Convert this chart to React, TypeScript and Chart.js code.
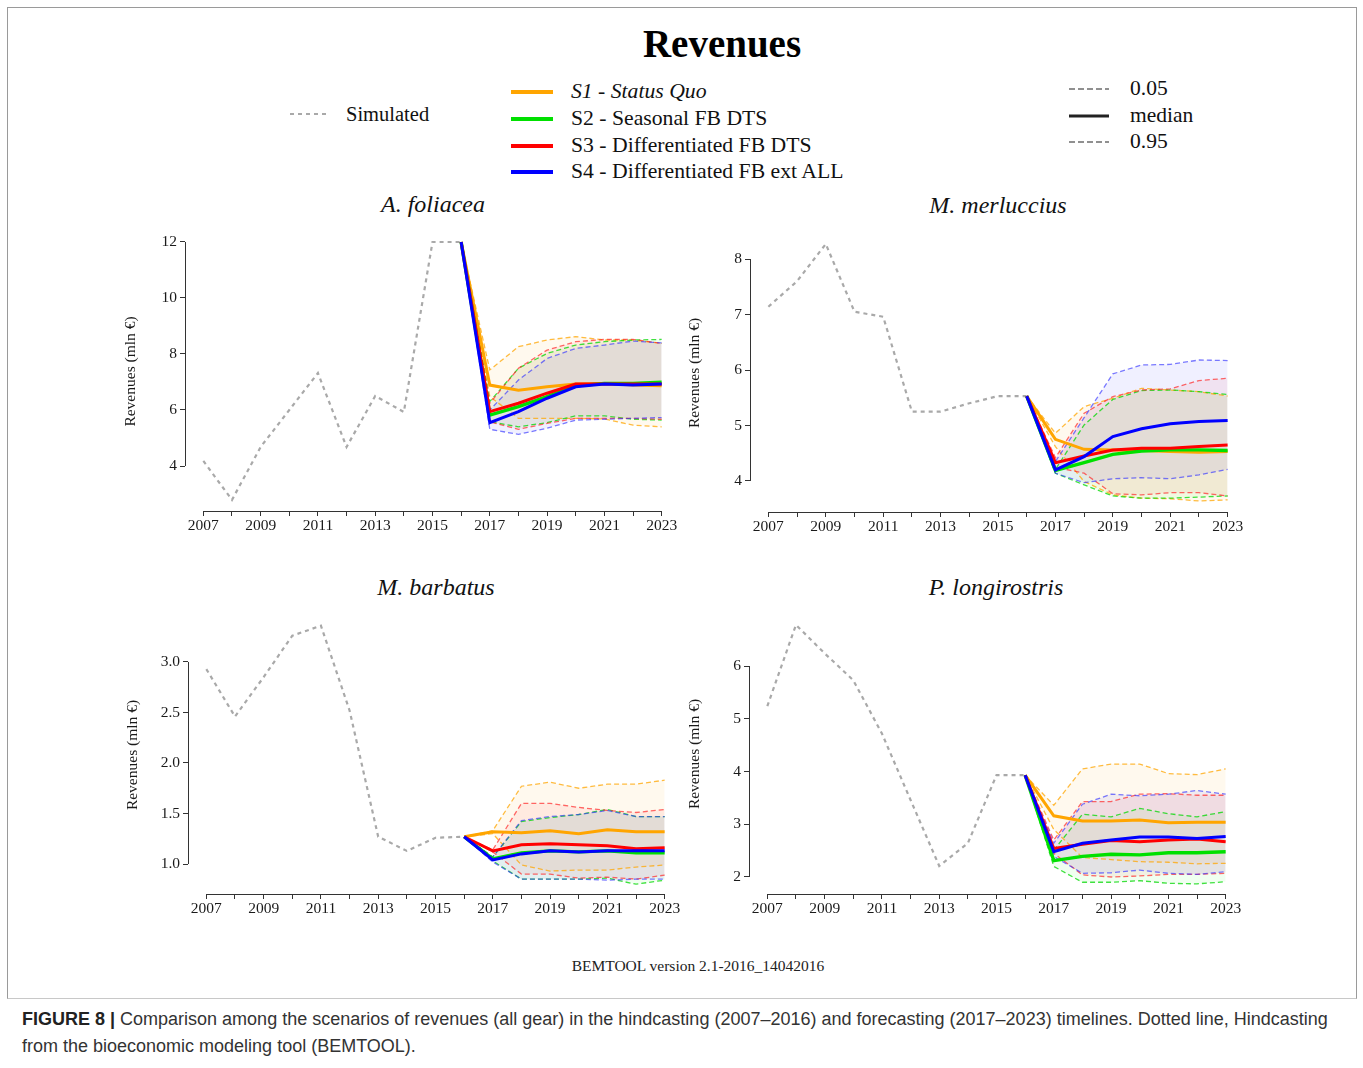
import React, { useEffect, useRef } from "react";
import { Chart, registerables } from "chart.js";

Chart.register(...registerables);

// ---------- DATA ----------
const simYears = [2007, 2008, 2009, 2010, 2011, 2012, 2013, 2014, 2015, 2016];
const fcYears = [2016, 2017, 2018, 2019, 2020, 2021, 2022, 2023];
const xTickYears = [2007, 2008, 2009, 2010, 2011, 2012, 2013, 2014, 2015, 2016, 2017, 2018, 2019, 2020, 2021, 2022, 2023];
const xTickLabels = ["2007", "2009", "2011", "2013", "2015", "2017", "2019", "2021", "2023"];

const scenarioNames = ["S1 - Status Quo", "S2 - Seasonal FB DTS", "S3 - Differentiated FB DTS", "S4 - Differentiated FB ext ALL"];
const quantileNames = ["0.05", "median", "0.95"];

// A. foliacea
const foliaceaSim = [4.18, 2.79, 4.68, 6.0, 7.32, 4.68, 6.5, 5.93, 12, 12];
const foliaceaS1Med = [12, 6.89, 6.71, 6.83, 6.93, 6.95, 6.89, 6.87];
const foliaceaS1Q05 = [12, 6.48, 5.7, 5.7, 5.7, 5.68, 5.46, 5.4];
const foliaceaS1Q95 = [12, 7.43, 8.26, 8.5, 8.62, 8.5, 8.5, 8.38];
const foliaceaS2Med = [12, 5.82, 6.12, 6.48, 6.86, 6.95, 6.95, 6.99];
const foliaceaS2Q05 = [12, 5.58, 5.4, 5.55, 5.79, 5.79, 5.67, 5.64];
const foliaceaS2Q95 = [12, 6.3, 7.49, 8.02, 8.32, 8.44, 8.5, 8.52];
const foliaceaS3Med = [12, 5.94, 6.24, 6.6, 6.93, 6.93, 6.93, 6.93];
const foliaceaS3Q05 = [12, 5.58, 5.31, 5.52, 5.7, 5.7, 5.7, 5.67];
const foliaceaS3Q95 = [12, 6.24, 7.49, 8.14, 8.44, 8.52, 8.52, 8.38];
const foliaceaS4Med = [12, 5.55, 5.94, 6.42, 6.83, 6.93, 6.89, 6.93];
const foliaceaS4Q05 = [12, 5.31, 5.13, 5.35, 5.64, 5.67, 5.7, 5.73];
const foliaceaS4Q95 = [12, 6.0, 7.07, 7.84, 8.2, 8.32, 8.46, 8.4];
const foliaceaYTicks = [4, 6, 8, 10, 12];

// M. merluccius
const merlucciusSim = [7.14, 7.6, 8.27, 7.05, 6.96, 5.25, 5.25, 5.4, 5.53, 5.53];
const merlucciusS1Med = [5.53, 4.75, 4.57, 4.56, 4.55, 4.53, 4.52, 4.53];
const merlucciusS1Q05 = [5.53, 4.62, 3.99, 3.75, 3.69, 3.68, 3.64, 3.66];
const merlucciusS1Q95 = [5.53, 4.86, 5.34, 5.49, 5.67, 5.64, 5.61, 5.53];
const merlucciusS2Med = [5.53, 4.19, 4.33, 4.48, 4.54, 4.56, 4.56, 4.55];
const merlucciusS2Q05 = [5.53, 4.14, 3.93, 3.73, 3.69, 3.69, 3.71, 3.73];
const merlucciusS2Q95 = [5.53, 4.21, 5.01, 5.47, 5.63, 5.64, 5.61, 5.56];
const merlucciusS3Med = [5.53, 4.33, 4.45, 4.56, 4.59, 4.59, 4.62, 4.65];
const merlucciusS3Q05 = [5.53, 4.25, 4.14, 3.77, 3.75, 3.79, 3.79, 3.73];
const merlucciusS3Q95 = [5.53, 4.42, 5.22, 5.52, 5.64, 5.66, 5.81, 5.85];
const merlucciusS4Med = [5.53, 4.2, 4.44, 4.8, 4.94, 5.03, 5.07, 5.09];
const merlucciusS4Q05 = [5.53, 4.14, 3.97, 4.04, 4.06, 4.04, 4.11, 4.21];
const merlucciusS4Q95 = [5.53, 4.35, 5.14, 5.93, 6.09, 6.1, 6.18, 6.17];
const merlucciusYTicks = [4, 5, 6, 7, 8];

// M. barbatus
const barbatusSim = [2.93, 2.46, 2.85, 3.26, 3.36, 2.52, 1.27, 1.13, 1.26, 1.27];
const barbatusS1Med = [1.27, 1.32, 1.31, 1.33, 1.3, 1.34, 1.32, 1.32];
const barbatusS1Q05 = [1.27, 1.3, 0.99, 0.93, 0.94, 0.94, 0.97, 0.99];
const barbatusS1Q95 = [1.27, 1.33, 1.77, 1.81, 1.75, 1.79, 1.79, 1.83];
const barbatusS2Med = [1.27, 1.05, 1.11, 1.13, 1.12, 1.13, 1.11, 1.11];
const barbatusS2Q05 = [1.27, 1.03, 0.85, 0.85, 0.85, 0.86, 0.8, 0.84];
const barbatusS2Q95 = [1.27, 1.07, 1.42, 1.46, 1.49, 1.54, 1.47, 1.47];
const barbatusS3Med = [1.27, 1.13, 1.19, 1.2, 1.19, 1.18, 1.15, 1.16];
const barbatusS3Q05 = [1.27, 1.12, 0.9, 0.9, 0.86, 0.87, 0.85, 0.89];
const barbatusS3Q95 = [1.27, 1.14, 1.6, 1.6, 1.56, 1.53, 1.51, 1.54];
const barbatusS4Med = [1.27, 1.04, 1.1, 1.13, 1.12, 1.13, 1.13, 1.13];
const barbatusS4Q05 = [1.27, 1.02, 0.85, 0.85, 0.85, 0.84, 0.85, 0.85];
const barbatusS4Q95 = [1.27, 1.07, 1.43, 1.47, 1.49, 1.53, 1.47, 1.47];
const barbatusYTicks = [1.0, 1.5, 2.0, 2.5, 3.0];

// P. longirostris
const longirostrisSim = [5.24, 6.78, 6.24, 5.73, 4.72, 3.46, 2.21, 2.64, 3.93, 3.93];
const longirostrisS1Med = [3.93, 3.16, 3.06, 3.06, 3.08, 3.03, 3.04, 3.04];
const longirostrisS1Q05 = [3.93, 2.9, 2.37, 2.33, 2.29, 2.28, 2.25, 2.26];
const longirostrisS1Q95 = [3.93, 3.36, 4.05, 4.14, 4.14, 3.96, 3.94, 4.05];
const longirostrisS2Med = [3.93, 2.31, 2.39, 2.43, 2.42, 2.46, 2.46, 2.48];
const longirostrisS2Q05 = [3.93, 2.2, 1.9, 1.9, 1.93, 1.88, 1.87, 1.91];
const longirostrisS2Q95 = [3.93, 2.51, 3.19, 3.14, 3.3, 3.2, 3.14, 3.24];
const longirostrisS3Med = [3.93, 2.54, 2.62, 2.69, 2.67, 2.7, 2.72, 2.67];
const longirostrisS3Q05 = [3.93, 2.45, 2.04, 2.0, 2.02, 2.05, 2.05, 2.07];
const longirostrisS3Q95 = [3.93, 2.7, 3.43, 3.43, 3.57, 3.58, 3.55, 3.55];
const longirostrisS4Med = [3.93, 2.48, 2.64, 2.7, 2.76, 2.76, 2.73, 2.77];
const longirostrisS4Q05 = [3.93, 2.39, 2.07, 2.08, 2.13, 2.07, 2.05, 2.1];
const longirostrisS4Q95 = [3.93, 2.64, 3.38, 3.57, 3.54, 3.57, 3.64, 3.57];
const longirostrisYTicks = [2, 3, 4, 5, 6];

// ---------- STYLE ----------
const SERIF = '"Liberation Serif", "Times New Roman", Times, serif';
const SANS = '"Liberation Sans", Arial, Helvetica, sans-serif';
const medColors = ["#FFA500", "#00E000", "#FF0000", "#0000FF"];
const qColors = ["rgba(255,165,0,0.75)", "rgba(0,215,0,0.75)", "rgba(255,40,40,0.7)", "rgba(50,50,255,0.65)"];
const fillColors = ["rgba(255,165,0,0.065)", "rgba(0,255,0,0.06)", "rgba(255,0,0,0.06)", "rgba(0,0,255,0.06)"];
const simColor = "#a9a9a9";

type PanelCfg = {
  title: string;
  sim: number[];
  med: number[][];
  q05: number[][];
  q95: number[][];
  yTicks: number[];
  decimals: number;
  yMin: number;
  yMax: number;
  left: number;
  top: number;
  width: number;
  height: number;
  yAxisW: number;
  titleX: number;
  titleY: number;
};

const panels: PanelCfg[] = [
  {
    title: "A. foliacea",
    sim: foliaceaSim,
    med: [foliaceaS1Med, foliaceaS2Med, foliaceaS3Med, foliaceaS4Med],
    q05: [foliaceaS1Q05, foliaceaS2Q05, foliaceaS3Q05, foliaceaS4Q05],
    q95: [foliaceaS1Q95, foliaceaS2Q95, foliaceaS3Q95, foliaceaS4Q95],
    yTicks: foliaceaYTicks, decimals: 0, yMin: 2.3929, yMax: 12.357,
    left: 118, top: 218, width: 568, height: 325, yAxisW: 67, titleX: 433, titleY: 204,
  },
  {
    title: "M. merluccius",
    sim: merlucciusSim,
    med: [merlucciusS1Med, merlucciusS2Med, merlucciusS3Med, merlucciusS4Med],
    q05: [merlucciusS1Q05, merlucciusS2Q05, merlucciusS3Q05, merlucciusS4Q05],
    q95: [merlucciusS1Q95, merlucciusS2Q95, merlucciusS3Q95, merlucciusS4Q95],
    yTicks: merlucciusYTicks, decimals: 0, yMin: 3.4414, yMax: 8.4505,
    left: 682, top: 220, width: 570, height: 324, yAxisW: 68, titleX: 998, titleY: 205,
  },
  {
    title: "M. barbatus",
    sim: barbatusSim,
    med: [barbatusS1Med, barbatusS2Med, barbatusS3Med, barbatusS4Med],
    q05: [barbatusS1Q05, barbatusS2Q05, barbatusS3Q05, barbatusS4Q05],
    q95: [barbatusS1Q95, barbatusS2Q95, barbatusS3Q95, barbatusS4Q95],
    yTicks: barbatusYTicks, decimals: 1, yMin: 0.703, yMax: 3.4554,
    left: 120, top: 602, width: 569, height: 324, yAxisW: 68, titleX: 436, titleY: 587,
  },
  {
    title: "P. longirostris",
    sim: longirostrisSim,
    med: [longirostrisS1Med, longirostrisS2Med, longirostrisS3Med, longirostrisS4Med],
    q05: [longirostrisS1Q05, longirostrisS2Q05, longirostrisS3Q05, longirostrisS4Q05],
    q95: [longirostrisS1Q95, longirostrisS2Q95, longirostrisS3Q95, longirostrisS4Q95],
    yTicks: longirostrisYTicks, decimals: 0, yMin: 1.6777, yMax: 6.9858,
    left: 682, top: 600, width: 568, height: 326, yAxisW: 67, titleX: 996, titleY: 587,
  },
];

const toXY = (xs: number[], ys: number[]) => xs.map((x, i) => ({ x, y: ys[i] }));

const axisLinePlugin = {
  id: "rAxisLines",
  afterDraw(chart: any) {
    const { ctx, chartArea } = chart;
    const xs = chart.scales.x;
    const ys = chart.scales.y;
    const xt = xs.ticks;
    const yt = ys.ticks;
    ctx.save();
    ctx.strokeStyle = "#333";
    ctx.lineWidth = 1;
    ctx.beginPath();
    const yb = Math.round(chartArea.bottom) + 0.5;
    ctx.moveTo(xs.getPixelForValue(xt[0].value), yb);
    ctx.lineTo(xs.getPixelForValue(xt[xt.length - 1].value), yb);
    const xl = Math.round(chartArea.left) + 0.5;
    ctx.moveTo(xl, ys.getPixelForValue(yt[0].value));
    ctx.lineTo(xl, ys.getPixelForValue(yt[yt.length - 1].value));
    ctx.stroke();
    ctx.restore();
  },
};

function Panel({ cfg }: { cfg: PanelCfg }) {
  const ref = useRef<HTMLCanvasElement | null>(null);
  useEffect(() => {
    if (!ref.current) return;
    const datasets: any[] = [];
    const order = [3, 2, 1, 0];
    for (const s of order) {
      datasets.push({
        label: scenarioNames[s] + " median",
        data: toXY(fcYears, cfg.med[s]),
        borderColor: medColors[s],
        borderWidth: s === 1 ? 3.4 : 3,
        pointRadius: 0,
        fill: false,
        tension: 0,
      });
    }
    let idx = datasets.length;
    for (const s of order) {
      datasets.push({
        label: scenarioNames[s] + " 0.95",
        data: toXY(fcYears, cfg.q95[s]),
        borderColor: qColors[s],
        borderWidth: 1.3,
        borderDash: [5, 3],
        pointRadius: 0,
        fill: idx + 1,
        backgroundColor: fillColors[s],
        tension: 0,
      });
      datasets.push({
        label: scenarioNames[s] + " 0.05",
        data: toXY(fcYears, cfg.q05[s]),
        borderColor: qColors[s],
        borderWidth: 1.3,
        borderDash: [5, 3],
        pointRadius: 0,
        fill: false,
        tension: 0,
      });
      idx += 2;
    }
    datasets.push({
      label: "Simulated",
      data: toXY(simYears, cfg.sim),
      borderColor: simColor,
      borderWidth: 2.2,
      borderDash: [4, 4],
      pointRadius: 0,
      fill: false,
      tension: 0,
    });

    const chart = new Chart(ref.current, {
      type: "line",
      data: { datasets },
      plugins: [axisLinePlugin],
      options: {
        animation: false,
        responsive: false,
        maintainAspectRatio: false,
        layout: { padding: { left: 0, top: 14, right: 6, bottom: 0 } },
        plugins: {
          legend: { display: false },
          tooltip: { enabled: false },
          filler: { drawTime: "beforeDatasetsDraw" },
        },
        scales: {
          x: {
            type: "linear",
            min: 2006.36,
            max: 2023.64,
            afterBuildTicks: (scale: any) => {
              scale.ticks = xTickYears.map((v) => ({ value: v }));
            },
            afterFit: (scale: any) => {
              scale.height = 32;
            },
            border: { display: false },
            grid: { drawOnChartArea: false, drawTicks: true, tickLength: 5, color: "#333", lineWidth: 1 },
            ticks: {
              autoSkip: false,
              maxRotation: 0,
              minRotation: 0,
              padding: 1,
              color: "#1a1a1a",
              font: { family: SERIF, size: 15.5 },
              callback: (v: any) => (xTickLabels.includes(String(v)) ? String(v) : ""),
            },
          },
          y: {
            type: "linear",
            min: cfg.yMin,
            max: cfg.yMax,
            afterBuildTicks: (scale: any) => {
              scale.ticks = cfg.yTicks.map((v) => ({ value: v }));
            },
            afterFit: (scale: any) => {
              scale.width = cfg.yAxisW;
            },
            border: { display: false },
            grid: { drawOnChartArea: false, drawTicks: true, tickLength: 5, color: "#333", lineWidth: 1 },
            ticks: {
              padding: 3,
              color: "#1a1a1a",
              font: { family: SERIF, size: 15.5 },
              callback: (v: any) => Number(v).toFixed(cfg.decimals),
            },
            title: {
              display: true,
              text: "Revenues (mln €)",
              color: "#1a1a1a",
              font: { family: SERIF, size: 15.5 },
              padding: { top: 4, bottom: 4 },
            },
          },
        },
      } as any,
    });
    return () => chart.destroy();
  }, [cfg]);

  return (
    <>
      <canvas
        ref={ref}
        width={cfg.width}
        height={cfg.height}
        style={{ position: "absolute", left: cfg.left, top: cfg.top, width: cfg.width, height: cfg.height }}
      />
      <div
        style={{
          position: "absolute",
          left: cfg.titleX,
          top: cfg.titleY,
          transform: "translate(-50%, -50%)",
          font: `italic 24px ${SERIF}`,
          lineHeight: 1,
          whiteSpace: "nowrap",
          color: "#111",
        }}
      >
        {cfg.title}
      </div>
    </>
  );
}

function Txt({ x, y, size, italic, bold, children, family }: any) {
  return (
    <div
      style={{
        position: "absolute",
        left: x,
        top: y,
        transform: "translateY(-50%)",
        fontFamily: family || SERIF,
        fontSize: size,
        fontStyle: italic ? "italic" : "normal",
        fontWeight: bold ? "bold" : "normal",
        lineHeight: 1,
        whiteSpace: "nowrap",
        color: "#111",
      }}
    >
      {children}
    </div>
  );
}

function LineSample({ x, y, w, color, width, dash }: any) {
  return (
    <svg style={{ position: "absolute", left: x, top: y - 4 }} width={w} height={8}>
      <line x1={0} y1={4} x2={w} y2={4} stroke={color} strokeWidth={width} strokeDasharray={dash || undefined} />
    </svg>
  );
}

export default function App() {
  const scenY = [92, 119, 146, 172];
  const qY = [89, 116, 142];
  return (
    <div style={{ position: "absolute", left: 0, top: 0, width: 1363, height: 1068, background: "#fff", overflow: "hidden" }}>
      <div style={{ position: "absolute", left: 7, top: 7, width: 1348, height: 990, border: "1px solid #9a9a9a", borderBottom: "1px solid #c8c8c8" }} />
      <div
        style={{
          position: "absolute",
          left: 722,
          top: 43,
          transform: "translate(-50%, -50%)",
          font: `bold 39px ${SERIF}`,
          lineHeight: 1,
          color: "#000",
          whiteSpace: "nowrap",
        }}
      >
        Revenues
      </div>

      {/* Simulated legend */}
      <LineSample x={290} y={114} w={38} color={simColor} width={2} dash="4 4" />
      <Txt x={346} y={114} size={20.5}>Simulated</Txt>

      {/* Scenario legend */}
      {scenarioNames.map((n, i) => (
        <React.Fragment key={n}>
          <LineSample x={511} y={scenY[i]} w={42} color={medColors[i]} width={4} />
          <Txt x={571} y={scenY[i]} size={21.7} italic={i === 0}>{n}</Txt>
        </React.Fragment>
      ))}

      {/* Quantile legend */}
      {quantileNames.map((n, i) => (
        <React.Fragment key={n}>
          <LineSample
            x={1069}
            y={qY[i]}
            w={40}
            color="#222"
            width={i === 1 ? 3 : 1.2}
            dash={i === 1 ? undefined : "6 3"}
          />
          <Txt x={1130} y={qY[i]} size={21.5}>{n}</Txt>
        </React.Fragment>
      ))}

      {panels.map((p) => (
        <Panel key={p.title} cfg={p} />
      ))}

      <div
        style={{
          position: "absolute",
          left: 698,
          top: 966,
          transform: "translate(-50%, -50%)",
          font: `15.5px ${SERIF}`,
          lineHeight: 1,
          whiteSpace: "nowrap",
          color: "#222",
        }}
      >
        BEMTOOL version 2.1-2016_14042016
      </div>

      <div
        style={{
          position: "absolute",
          left: 22,
          top: 1006,
          width: 1316,
          fontFamily: SANS,
          fontSize: 18,
          lineHeight: "27px",
          color: "#333",
        }}
      >
        <b style={{ color: "#222" }}>FIGURE 8 |</b> Comparison among the scenarios of revenues (all gear) in the hindcasting (2007–2016) and forecasting (2017–2023) timelines. Dotted line, Hindcasting from the bioeconomic modeling tool (BEMTOOL).
      </div>
    </div>
  );
}
